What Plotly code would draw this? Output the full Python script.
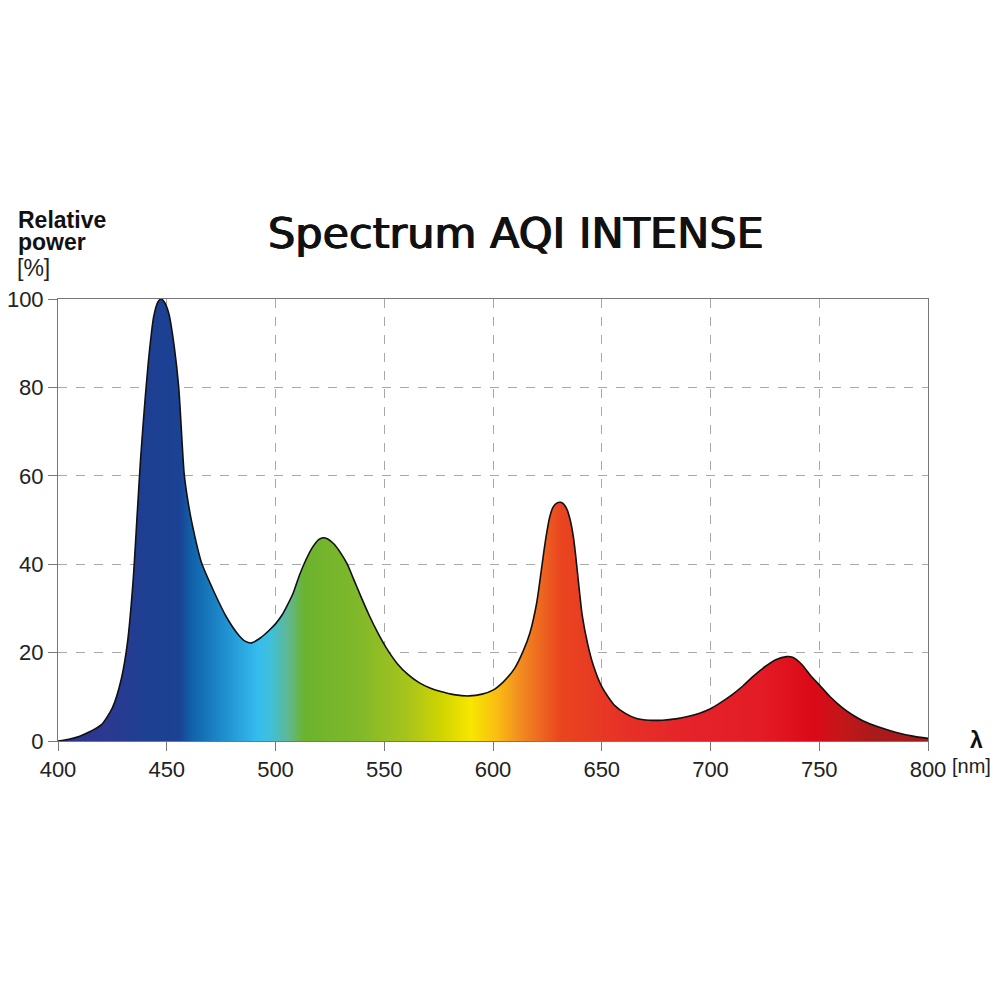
import plotly.graph_objects as go

# Wavelength (nm) and relative power (%)
wavelength = [400, 405, 410, 415, 420, 425, 429, 432, 434.5, 436.5, 438, 440, 442, 444, 446,
              447.5, 449, 451, 453.5, 455.5, 457, 458, 459.5, 461.5, 466, 471.5, 477.5, 483, 486,
              489, 493, 497, 500, 503, 505, 508, 511, 514, 517, 520, 522, 524, 527, 530, 533, 536, 539,
              543, 547, 551, 556, 561, 566, 571, 576, 582, 589, 595, 600, 605, 610, 614, 617, 620,
              621.5, 623, 624.5, 626, 627.5, 629, 631, 632.5, 634, 635.5, 637, 638, 639.5, 641, 643.5,
              646, 650, 656, 661, 666, 672, 678, 684, 690, 695, 700, 705, 710, 715, 720, 725, 730,
              735, 738, 742, 746, 750, 755, 760, 765, 770, 777, 785, 793, 800]
power = [0, 0.4, 1.1, 2.2, 3.7, 7.5, 13.8, 22.5, 36, 52, 64, 77, 88, 96, 99.4,
         100, 99.2, 96.6, 89, 80, 68, 60.5, 55, 49.5, 40.3, 34, 28, 24, 22.6,
         22.2, 23.3, 25, 26.5, 28.5, 30.3, 33.3, 37.5, 41, 43.8, 45.6, 46, 45.7, 44.5, 42.5, 40, 36.5, 33,
         28.5, 24.5, 21, 17.5, 15, 13.2, 12, 11.2, 10.5, 10.2, 10.6, 11.5, 13.5, 16.5, 20.5, 24.5, 31,
         36, 41.5, 46.5, 50.5, 52.8, 53.7, 54, 53.6, 52.4, 50, 46, 42, 35, 28.5, 22,
         17.3, 12.3, 8, 6.2, 5.1, 4.7, 4.7, 5.0, 5.6, 6.3, 7.3, 8.8, 10.5, 12.5, 14.8, 16.8, 18.4,
         19.1, 18.9, 17.3, 14.8, 12.7, 10.0, 7.8, 6.0, 4.6, 3.2, 2.0, 1.1, 0.6]

# Spectrum colour stops (wavelength nm, colour)
color_nm = [400, 423, 440, 456, 461, 477, 492, 498, 506, 513, 538, 561, 576, 590, 602,
            613, 631, 662, 692, 723, 747, 761, 776, 800]
color_hex = ["#2e3590", "#2b3990", "#1e3f92", "#1b4294", "#1060a8", "#2090d0", "#35bdee", "#40bfd8",
             "#60b890", "#6bb32e", "#80b82a", "#a8c41c", "#cfd400", "#f8e600", "#f9bc12",
             "#f18a20", "#e9451f", "#e63027", "#e5222a", "#e31c25", "#dc0917", "#c21719", "#a81a1b",
             "#a8191c"]

x_ticks = [400, 450, 500, 550, 600, 650, 700, 750, 800]
y_ticks = [0, 20, 40, 60, 80, 100]

colorscale = [[(c - 400) / 400, h] for c, h in zip(color_nm, color_hex)]

fig = go.Figure()
fig.add_trace(go.Scatter(
    x=wavelength, y=power, mode="lines",
    line=dict(color="#111111", width=1.6, shape="spline", smoothing=0.7),
    fill="tozeroy",
    fillgradient=dict(type="horizontal", colorscale=colorscale, start=400, stop=800),
    hoverinfo="x+y", showlegend=False,
))

# page offset (body margin) and target page pixel positions
OFF = 8
FW = FH = 1000 - 2 * OFF
PL, PR, PT, PB = 58, 928, 299, 741          # plot box in page pixels
L = PL - OFF
T = PT - OFF
W = PR - PL
H = PB - PT
R = FW - L - W
B = FH - T - H

def px(xp):
    return (xp - PL) / W

def py(yp):
    return (PB - yp) / H

axis_font = dict(family="Liberation Sans, Arial, sans-serif", size=22, color="#222222")

fig.update_layout(
    width=FW, height=FH,
    margin=dict(l=L, r=R, t=T, b=B, autoexpand=False),
    paper_bgcolor="white", plot_bgcolor="white",
    xaxis=dict(range=[400, 800], tickvals=x_ticks, ticktext=[str(v) for v in x_ticks],
               showgrid=True, gridcolor="#a8a8a8", griddash="dash", gridwidth=1,
               showline=True, linecolor="#777777", linewidth=1, mirror=True,
               ticks="outside", ticklen=9, tickcolor="#777777", tickfont=axis_font,
               zeroline=False, fixedrange=True, automargin=False),
    yaxis=dict(range=[0, 100], tickvals=y_ticks, ticktext=[str(v) for v in y_ticks],
               showgrid=True, gridcolor="#a8a8a8", griddash="dash", gridwidth=1,
               showline=True, linecolor="#777777", linewidth=1, mirror=True,
               ticks="outside", ticklen=9, tickcolor="#777777", tickfont=axis_font,
               zeroline=False, fixedrange=True, automargin=False),
    annotations=[
        dict(text="Spectrum AQI INTENSE", xref="paper", yref="paper", x=px(516), y=py(233),
             xanchor="center", yanchor="middle", showarrow=False,
             font=dict(family="DejaVu Sans, sans-serif", size=43, color="#111111",
                       shadow="0.7px 0 0 #111111, -0.7px 0 0 #111111")),
        dict(text="<b>Relative</b>", xref="paper", yref="paper", x=px(16), y=py(220),
             xanchor="left", yanchor="middle", showarrow=False,
             font=dict(family="Liberation Sans, Arial, sans-serif", size=23, color="#111111")),
        dict(text="<b>power</b>", xref="paper", yref="paper", x=px(16), y=py(242),
             xanchor="left", yanchor="middle", showarrow=False,
             font=dict(family="Liberation Sans, Arial, sans-serif", size=23, color="#111111")),
        dict(text="[%]", xref="paper", yref="paper", x=px(15), y=py(268),
             xanchor="left", yanchor="middle", showarrow=False,
             font=dict(family="Liberation Sans, Arial, sans-serif", size=23, color="#222222")),
        dict(text="<b>λ</b>", xref="paper", yref="paper", x=px(976), y=py(740),
             xanchor="center", yanchor="middle", showarrow=False,
             font=dict(family="Liberation Sans, Arial, sans-serif", size=23, color="#111111")),
        dict(text="[nm]", xref="paper", yref="paper", x=px(971), y=py(766),
             xanchor="center", yanchor="middle", showarrow=False,
             font=dict(family="Liberation Sans, Arial, sans-serif", size=20, color="#222222")),
    ],
)

fig.write_html("out.html")
